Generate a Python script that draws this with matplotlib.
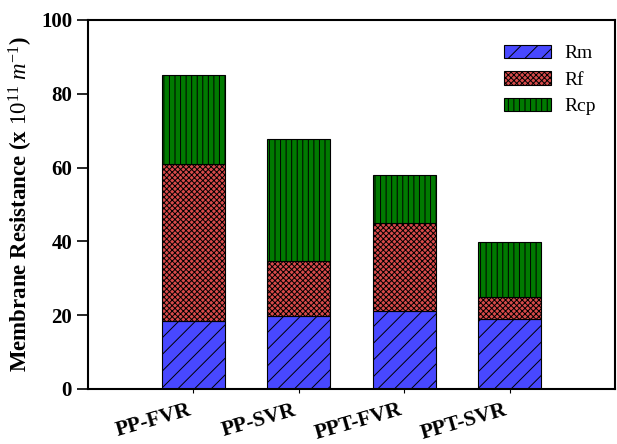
import numpy as np
import matplotlib.pyplot as plt

plt.rcParams['font.family'] = 'Liberation Serif'
plt.rcParams['mathtext.fontset'] = 'custom'
plt.rcParams['mathtext.it'] = 'Liberation Serif:italic'
plt.rcParams['mathtext.rm'] = 'Liberation Serif'
plt.rcParams['hatch.linewidth'] = 0.7

# data
samples = ['PP-FVR', 'PP-SVR', 'PPT-FVR', 'PPT-SVR']
rm = [18.4, 19.8, 21.2, 19.0]
rf = [42.7, 14.8, 23.9, 5.9]
rcp = [24.0, 33.1, 12.9, 15.0]

x = np.arange(len(samples))
w = 0.6

fig = plt.figure(figsize=(6.17, 4.44), dpi=100)
ax = fig.add_axes([0.1426, 0.1239, 0.854, 0.8311])

bottom2 = np.array(rm) + np.array(rf)
ax.bar(x, rm, w, color='#4848ff', edgecolor='black', hatch='//', linewidth=0.8, label='Rm')
ax.bar(x, rf, w, bottom=rm, color='#d84a4a', edgecolor='black', hatch='xxxxxx', linewidth=0.8, label='Rf')
ax.bar(x, rcp, w, bottom=bottom2, color='#007a00', edgecolor='black', hatch='|||', linewidth=0.8, label='Rcp')

ax.set_xlim(-1, 4)
ax.set_ylim(0, 100)
ax.set_yticks(np.arange(0, 101, 20))
ax.set_xticks(x)
ax.set_xticklabels(samples, rotation=16, ha='right', fontsize=15.5, fontweight='bold')
for t in ax.get_yticklabels():
    t.set_fontsize(15)
    t.set_fontweight('bold')
ax.tick_params(axis='y', direction='out', length=8, width=1.2)
ax.tick_params(axis='x', direction='out', length=3, width=0.8, pad=5)
for s in ax.spines.values():
    s.set_linewidth(1.5)

ax.set_ylabel(r'Membrane Resistance (x $\mathit{10^{11}\ m^{-1}}$)', fontsize=16.5, fontweight='bold')

ax.legend(loc='upper right', bbox_to_anchor=(0.997, 0.98), frameon=False, fontsize=14,
          handlelength=2.4, handleheight=0.7, labelspacing=0.45, handletextpad=0.7)

fig.savefig('out.png', dpi=100)
